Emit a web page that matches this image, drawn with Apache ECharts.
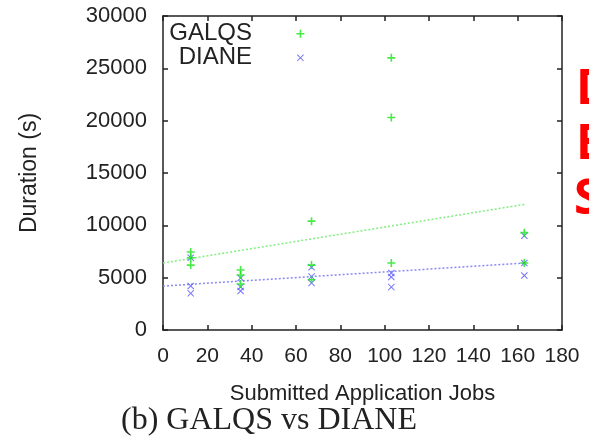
<!DOCTYPE html>
<html><head><meta charset="utf-8">
<script src="https://cdn.jsdelivr.net/npm/echarts@6/dist/echarts.min.js"></script>
<style>html,body{margin:0;padding:0;background:#fff}#c{width:589px;height:441px}</style>
</head><body><div id="c"></div>
<script>
const galqsJobs = [12.5,12.5,12.5,35,35,35,62,67,67,67,103,103,103,163,163];
const galqsDuration = [7450,6900,6200,5730,5250,4390,28300,10400,6200,4800,26000,20300,6400,9300,6400];
const dianeJobs = [12.5,12.5,12.5,35,35,35,62,67,67,67,103,103,103,163,163,163];
const dianeDuration = [6900,4200,3500,4970,4110,3730,26000,6000,5100,4500,5450,5060,4100,9000,6400,5200];
const galqsFitJobs = [0,163];
const galqsFitDuration = [6400,12000];
const dianeFitJobs = [0,163];
const dianeFitDuration = [4200,6400];
const xTicks = [0,20,40,60,80,100,120,140,160,180];
const yTicks = [0,5000,10000,15000,20000,25000,30000];
const seriesNames = ['GALQS','DIANE'];

const zip = (a,b) => a.map((v,i)=>[v,b[i]]);
const plusPath = 'path://M4,0L6,0L6,4L10,4L10,6L6,6L6,10L4,10L4,6L0,6L0,4L4,4Z';
const crossPath = 'path://M0,1L1,0L5,4L9,0L10,1L6,5L10,9L9,10L5,6L1,10L0,9L4,5Z';
const green = '#19e619';
const blue = '#5a5aff';
const font = 'Liberation Sans, Arial, sans-serif';

const chart = echarts.init(document.getElementById('c'), null, {renderer:'canvas'});
const axisCommon = () => ({
  axisLine:{show:true, onZero:false, lineStyle:{color:'#222', width:1.5}},
  axisTick:{show:true, inside:true, length:5, lineStyle:{color:'#222', width:1.5}},
  splitLine:{show:false}
});
chart.setOption({
  animation:false,
  backgroundColor:'#fff',
  grid:{left:163, right:27, top:16, bottom:111},
  xAxis:[
    Object.assign({type:'value', min:xTicks[0], max:xTicks[xTicks.length-1], interval:20, position:'bottom',
      name:'Submitted Application Jobs', nameLocation:'middle', nameGap:53,
      nameTextStyle:{fontFamily:font, fontSize:22, color:'#222'},
      axisLabel:{fontFamily:font, fontSize:21, color:'#222', margin:16, formatter:v=>String(v)}}, axisCommon()),
    Object.assign({type:'value', min:xTicks[0], max:xTicks[xTicks.length-1], interval:20, position:'top', axisLabel:{show:false}}, axisCommon())
  ],
  yAxis:[
    Object.assign({type:'value', min:yTicks[0], max:yTicks[yTicks.length-1], interval:5000, position:'left',
      name:'Duration (s)', nameLocation:'middle', nameGap:122,
      nameTextStyle:{fontFamily:font, fontSize:23, color:'#222'},
      axisLabel:{fontFamily:font, fontSize:22, color:'#222', margin:16, formatter:v=>String(v)}}, axisCommon()),
    Object.assign({type:'value', min:yTicks[0], max:yTicks[yTicks.length-1], interval:5000, position:'right', axisLabel:{show:false}}, axisCommon())
  ],
  series:[
    {name:seriesNames[0], type:'scatter', data:zip(galqsJobs,galqsDuration), symbol:plusPath, symbolSize:8,
      itemStyle:{color:green}, z:3},
    {name:seriesNames[1], type:'scatter', data:zip(dianeJobs,dianeDuration), symbol:crossPath, symbolSize:7,
      itemStyle:{color:blue, opacity:0.85}, z:2},
    {type:'line', data:zip(galqsFitJobs,galqsFitDuration), symbol:'none',
      lineStyle:{color:'#7fef7f', width:1.5, type:[2,2]}, z:1},
    {type:'line', data:zip(dianeFitJobs,dianeFitDuration), symbol:'none',
      lineStyle:{color:'#8a8af5', width:1.5, type:[2,2]}, z:1}
  ],
  graphic:[
    {type:'text', style:{text:seriesNames[0], x:252, y:33, align:'right', verticalAlign:'middle', fontFamily:font, fontSize:24, fill:'#222'}},
    {type:'text', style:{text:seriesNames[1], x:252, y:57, align:'right', verticalAlign:'middle', fontFamily:font, fontSize:24, fill:'#222'}},
    {type:'text', style:{text:'(b) GALQS vs DIANE', x:269, y:421, align:'center', verticalAlign:'middle', fontFamily:'Liberation Serif, Times New Roman, serif', fontSize:32, fill:'#222'}},
    {type:'text', style:{text:'D', x:576, y:90, align:'left', verticalAlign:'middle', fontFamily:'Open Sans, Noto Sans, sans-serif', fontWeight:'bold', fontSize:48, fill:'#ff0000'}},
    {type:'text', style:{text:'E', x:576, y:145, align:'left', verticalAlign:'middle', fontFamily:'Open Sans, Noto Sans, sans-serif', fontWeight:'bold', fontSize:48, fill:'#ff0000'}},
    {type:'text', style:{text:'S', x:574, y:200, align:'left', verticalAlign:'middle', fontFamily:'Open Sans, Noto Sans, sans-serif', fontWeight:'bold', fontSize:48, fill:'#ff0000'}}
  ]
});
</script></body></html>
